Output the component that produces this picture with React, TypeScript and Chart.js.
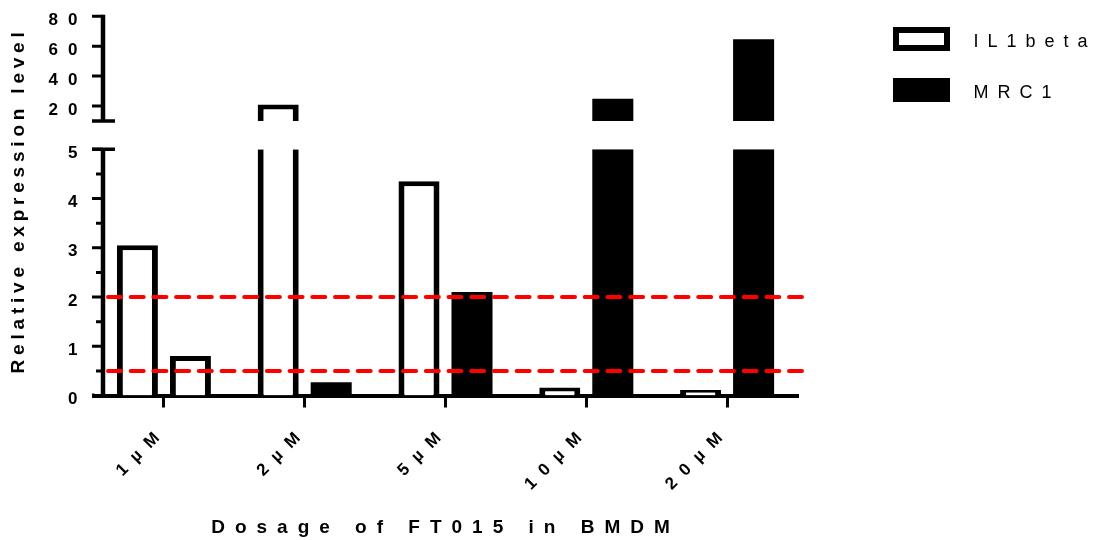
import React, { useEffect, useRef } from 'react';
import { Chart, registerables } from 'chart.js';

Chart.register(...registerables);

// ---------- data ----------
const categories = ['1µM', '2µM', '5µM', '10µM', '20µM'];
const seriesNames = ['IL1beta', 'MRC1'];
const il1beta = [3.05, 21.0, 4.35, 0.16, 0.11];
const mrc1 = [0.8, 0.27, 2.1, 24.8, 64.6];
const lowerTicks = [0, 1, 2, 3, 4, 5];
const upperTicks = [20, 40, 60, 80];
const lowerRange = [0, 5];
const upperRange = [10, 80];
const thresholds = [2, 0.5];
const xTitle = 'Dosage of FT015 in BMDM';
const yTitle = 'Relative expression level';

// ---------- styles ----------
const FONT = "'Liberation Sans', Arial, Helvetica, sans-serif";
const INK = '#000000';
const PAPER = '#ffffff';
const RED = '#ff0000';
const ilFill = [PAPER, PAPER, PAPER, PAPER, PAPER];
const mrcFill = [PAPER, INK, INK, INK, INK];

const setSpacing = (chart: any, px: number) => {
  try {
    chart.ctx.letterSpacing = px + 'px';
  } catch (e) {
    /* ignore */
  }
};

const spacingPlugin = {
  id: 'letterSpacing',
  beforeUpdate: (c: any) => setSpacing(c, 10),
  beforeLayout: (c: any) => setSpacing(c, 10),
  beforeDraw: (c: any) => setSpacing(c, 10),
};

const decorPlugin = {
  id: 'decor',
  afterDatasetsDraw(chart: any) {
    const { ctx, chartArea, scales } = chart;
    const lo = scales.yLow;
    const axisX = chartArea.left + 9.5;
    ctx.save();
    ctx.strokeStyle = RED;
    ctx.lineWidth = 4;
    ctx.lineCap = 'round';
    ctx.setLineDash([13, 9.7]);
    ctx.beginPath();
    for (const v of thresholds) {
      const y = lo.getPixelForValue(v);
      ctx.moveTo(axisX + 5, y);
      ctx.lineTo(chartArea.right + 5, y);
    }
    ctx.stroke();
    ctx.restore();
  },
  afterDraw(chart: any) {
    const { ctx, chartArea, scales } = chart;
    const lo = scales.yLow;
    const hi = scales.yHigh;
    const axisX = chartArea.left + 9.5;
    const tickStart = chartArea.left - 1.5;
    ctx.save();
    ctx.setLineDash([]);
    ctx.strokeStyle = INK;
    ctx.lineCap = 'butt';
    // axis lines
    ctx.lineWidth = 4.5;
    ctx.beginPath();
    ctx.moveTo(axisX, hi.top - 1.5);
    ctx.lineTo(axisX, hi.bottom);
    ctx.moveTo(axisX, lo.top);
    ctx.lineTo(axisX, lo.bottom + 2);
    ctx.stroke();
    // x axis left extension
    ctx.lineWidth = 4;
    ctx.beginPath();
    ctx.moveTo(tickStart, chartArea.bottom);
    ctx.lineTo(chartArea.left + 1, chartArea.bottom);
    ctx.stroke();
    // major ticks
    ctx.lineWidth = 3;
    ctx.beginPath();
    for (const s of [hi, lo]) {
      for (const t of s.ticks) {
        const y = s.getPixelForValue(t.value);
        ctx.moveTo(tickStart, y);
        ctx.lineTo(axisX, y);
      }
    }
    // minor ticks (lower segment)
    for (let i = 0; i < lo.ticks.length - 1; i++) {
      const v = (lo.ticks[i].value + lo.ticks[i + 1].value) / 2;
      const y = lo.getPixelForValue(v);
      ctx.moveTo(axisX - 7, y);
      ctx.lineTo(axisX, y);
    }
    ctx.stroke();
    // break marks
    ctx.lineWidth = 3.5;
    ctx.beginPath();
    ctx.moveTo(tickStart, hi.bottom);
    ctx.lineTo(axisX + 12, hi.bottom);
    ctx.moveTo(tickStart, lo.top);
    ctx.lineTo(axisX + 12, lo.top);
    ctx.stroke();

    // y title
    const ySpacing = 4.8;
    ctx.letterSpacing = ySpacing + 'px';
    ctx.font = `bold 19px ${FONT}`;
    ctx.fillStyle = INK;
    ctx.textBaseline = 'middle';
    ctx.textAlign = 'left';
    const w = ctx.measureText(yTitle).width - ySpacing;
    const cy = (hi.top + lo.bottom) / 2 - 3;
    ctx.save();
    ctx.translate(18.5, cy);
    ctx.rotate(-Math.PI / 2);
    ctx.fillText(yTitle, -w / 2, 0);
    ctx.restore();

    // legend
    const legSpacing = 9;
    ctx.letterSpacing = legSpacing + 'px';
    ctx.font = `18px ${FONT}`;
    const boxX = chartArea.right + 95.5;
    const boxW = 57;
    const boxH = 24;
    const fills = [PAPER, INK];
    const tops = [27, 78];
    seriesNames.forEach((name, i) => {
      const top = tops[i];
      ctx.fillStyle = INK;
      ctx.fillRect(boxX, top, boxW, boxH);
      if (fills[i] === PAPER) {
        ctx.fillStyle = PAPER;
        ctx.fillRect(boxX + 6, top + 6, boxW - 12, boxH - 12);
      }
      ctx.fillStyle = INK;
      ctx.fillText(name, boxX + boxW + 23.5, top + boxH / 2 + 3);
    });
    ctx.restore();
  },
};

const tickFont = { family: FONT, size: 17, weight: 'bold' as const };

export default function App() {
  const ref = useRef<HTMLCanvasElement | null>(null);

  useEffect(() => {
    if (!ref.current) return;
    const lowMax = lowerRange[1];
    const upMin = upperRange[0];
    const edgeOpen = { left: 6, right: 6, top: 0, bottom: 0 };
    const edgeClosed = { left: 6, right: 6, top: 5, bottom: 0 };
    const none = { left: 0, right: 0, top: 0, bottom: 0 };

    const lowerBorder = (values: number[], fills: string[]) => (c: any) =>
      fills[c.dataIndex] === INK ? none : values[c.dataIndex] > lowMax ? edgeOpen : edgeClosed;
    const upperBorder = (fills: string[]) => (c: any) =>
      fills[c.dataIndex] === INK ? none : edgeClosed;

    const chart = new Chart(ref.current, {
      type: 'bar',
      data: {
        labels: categories,
        datasets: [
          {
            label: seriesNames[0],
            data: il1beta.map((v) => Math.min(v, lowMax)),
            yAxisID: 'yLow',
            stack: 'a',
            backgroundColor: ilFill,
            borderColor: INK,
            borderWidth: lowerBorder(il1beta, ilFill) as any,
            borderSkipped: false,
          },
          {
            label: seriesNames[1],
            data: mrc1.map((v) => Math.min(v, lowMax)),
            yAxisID: 'yLow',
            stack: 'b',
            backgroundColor: mrcFill,
            borderColor: INK,
            borderWidth: lowerBorder(mrc1, mrcFill) as any,
            borderSkipped: false,
          },
          {
            label: seriesNames[0] + ' (upper)',
            data: il1beta.map((v) => (v > upMin ? [upMin, v] : null)) as any,
            yAxisID: 'yHigh',
            stack: 'a',
            backgroundColor: ilFill,
            borderColor: INK,
            borderWidth: upperBorder(ilFill) as any,
            borderSkipped: false,
          },
          {
            label: seriesNames[1] + ' (upper)',
            data: mrc1.map((v) => (v > upMin ? [upMin, v] : null)) as any,
            yAxisID: 'yHigh',
            stack: 'b',
            backgroundColor: mrcFill,
            borderColor: INK,
            borderWidth: upperBorder(mrcFill) as any,
            borderSkipped: false,
          },
        ],
      },
      options: {
        animation: false,
        responsive: true,
        maintainAspectRatio: false,
        events: [],
        color: INK,
        datasets: {
          bar: { categoryPercentage: 0.753, barPercentage: 0.774, inflateAmount: 0 },
        },
        layout: { padding: { top: 13.3, left: 0, right: 297.5, bottom: 0 } },
        plugins: {
          legend: { display: false },
          tooltip: { enabled: false },
        },
        scales: {
          x: {
            type: 'category',
            offset: true,
            grid: {
              display: true,
              drawOnChartArea: false,
              drawTicks: true,
              tickLength: 12,
              lineWidth: 3,
              color: INK,
              offset: false,
            },
            border: { display: true, width: 4, color: INK },
            ticks: {
              font: tickFont,
              color: INK,
              minRotation: 45,
              maxRotation: 45,
              padding: 14,
              autoSkip: false,
            },
            title: {
              display: true,
              text: xTitle,
              color: INK,
              font: { family: FONT, size: 19, weight: 'bold' },
              padding: { top: 0, bottom: 1 },
            },
            afterFit: (s: any) => {
              s.height = 144.5;
            },
          },
          yLow: {
            type: 'linear',
            position: 'left',
            stack: 'v',
            stackWeight: 248,
            weight: 0,
            min: lowerRange[0],
            max: lowerRange[1],
            stacked: false,
            grid: { display: false, drawTicks: false },
            border: { display: false },
            ticks: { font: tickFont, color: INK, padding: 6, labelOffset: 4 },
            afterBuildTicks: (s: any) => {
              s.ticks = lowerTicks.map((v) => ({ value: v }));
            },
            afterFit: (s: any) => {
              s.width = 93.5;
            },
          },
          yGap: {
            type: 'linear',
            position: 'left',
            stack: 'v',
            stackWeight: 28.5,
            weight: 1,
            display: false,
            min: 0,
            max: 1,
          },
          yHigh: {
            type: 'linear',
            position: 'left',
            stack: 'v',
            stackWeight: 105.5,
            weight: 2,
            min: upperRange[0],
            max: upperRange[1],
            stacked: false,
            grid: { display: false, drawTicks: false },
            border: { display: false },
            ticks: { font: tickFont, color: INK, padding: 6, labelOffset: 4 },
            afterBuildTicks: (s: any) => {
              s.ticks = upperTicks.map((v) => ({ value: v }));
            },
            afterFit: (s: any) => {
              s.width = 93.5;
            },
          },
        } as any,
      },
      plugins: [spacingPlugin, decorPlugin],
    });
    return () => chart.destroy();
  }, []);

  return (
    <div style={{ position: 'fixed', left: 0, top: 0, width: 1095, height: 540, background: '#fff' }}>
      <canvas ref={ref} style={{ display: 'block' }} />
    </div>
  );
}
